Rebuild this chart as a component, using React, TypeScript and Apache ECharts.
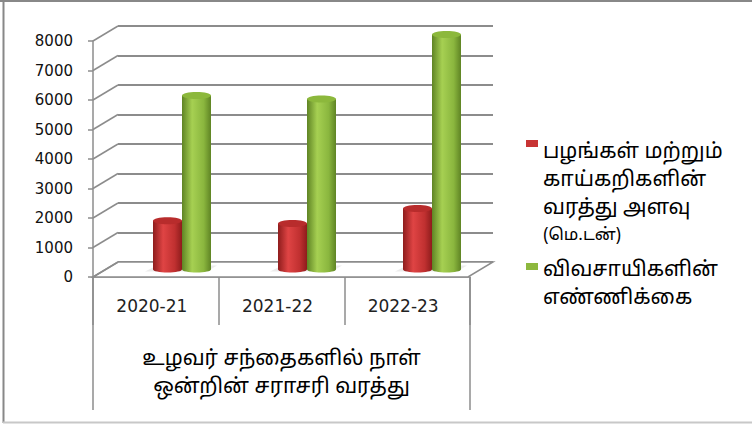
import React, { useEffect, useRef } from "react";
import * as echarts from "echarts";

const categories = ["2020-21", "2021-22", "2022-23"];
const produceArrival = [1650, 1560, 2070];
const farmerCount = [5900, 5780, 7970];
const yTicks = [0, 1000, 2000, 3000, 4000, 5000, 6000, 7000, 8000];
const legendProduceLines = ["பழங்கள் மற்றும்", "காய்கறிகளின்", "வரத்து அளவு"];
const legendProduceUnit = "(மெ.டன்)";
const legendFarmerLines = ["விவசாயிகளின்", "எண்ணிக்கை"];
const axisTitle = "உழவர் சந்தைகளில் நாள்\nஒன்றின் சராசரி வரத்து";

const GRID_GRAY = "#8c8c8c";
const DEPTH_DX = -25;
const DEPTH_DY = 15;
const BAR_W = 29;
const TAMIL_FONT = "'Noto Sans Tamil', 'Lohit Tamil', 'Latha', 'Noto Sans', sans-serif";

function cylinder(colors: { dark: string; light: string; mid: string; top: string }, side: number) {
  return (params: any, api: any) => {
    const ci = api.value(0);
    const v = api.value(1);
    const top = api.coord([ci, v]);
    const base = api.coord([ci, 0]);
    const x = side < 0 ? top[0] - BAR_W : top[0];
    const cx = x + BAR_W / 2;
    const grad = {
      type: "linear", x: 0, y: 0, x2: 1, y2: 0,
      colorStops: [
        { offset: 0, color: colors.dark },
        { offset: 0.35, color: colors.light },
        { offset: 0.75, color: colors.mid },
        { offset: 1, color: colors.dark },
      ],
    };
    const children: any[] = [];
    if (side < 0) {
      children.push({
        type: "polygon",
        shape: { points: [[x - 8, base[1] + 2], [x + 4, base[1] - 4], [x + 2 * BAR_W + 6, base[1] - 4], [x + 2 * BAR_W - 4, base[1] + 2]] },
        style: { fill: "rgba(0,0,0,0.08)" },
      });
    }
    children.push(
      { type: "ellipse", shape: { cx, cy: base[1], rx: BAR_W / 2, ry: 3 }, style: { fill: grad } },
      { type: "rect", shape: { x, y: top[1], width: BAR_W, height: base[1] - top[1] }, style: { fill: grad } },
      { type: "ellipse", shape: { cx, cy: top[1], rx: BAR_W / 2, ry: 3.5 }, style: { fill: colors.top } }
    );
    return { type: "group", children };
  };
}

export default function App() {
  const ref = useRef<HTMLDivElement>(null);
  useEffect(() => {
    if (!ref.current) return;
    const chart = echarts.init(ref.current, undefined, { renderer: "svg" });
    const legendTexts: any[] = [];
    legendProduceLines.forEach((t, i) => {
      legendTexts.push({
        type: "text", left: 543, top: 142 + i * 28,
        style: { text: t, font: `21px ${TAMIL_FONT}`, fill: "#000" },
      });
    });
    legendTexts.push({
      type: "text", left: 543, top: 227,
      style: { text: legendProduceUnit, font: `17px ${TAMIL_FONT}`, fill: "#000" },
    });
    legendFarmerLines.forEach((t, i) => {
      legendTexts.push({
        type: "text", left: 543, top: 260 + i * 28,
        style: { text: t, font: `21px ${TAMIL_FONT}`, fill: "#000" },
      });
    });

    chart.setOption({
      animation: false,
      backgroundColor: "#fff",
      grid: [
        { left: 118, top: 26, width: 375, height: 236 },
        { left: 93, top: 41, width: 377, height: 236 },
        { left: 119.5, top: 33.5, width: 375, height: 236 },
      ],
      xAxis: [
        { type: "category", gridIndex: 0, data: categories, show: false },
        {
          type: "category", gridIndex: 1, data: categories,
          axisLine: { show: true, lineStyle: { color: GRID_GRAY, width: 1.5 } },
          axisTick: { show: true, length: 48, interval: 0, alignWithLabel: false, lineStyle: { color: GRID_GRAY, width: 1.5 } },
          axisLabel: { fontSize: 17, fontFamily: "DejaVu Sans", color: "#222", margin: 20, interval: 0, padding: [0, 8, 0, 0] },
          name: axisTitle,
          nameLocation: "middle",
          nameGap: 69,
          nameTextStyle: { fontSize: 21, fontFamily: TAMIL_FONT, color: "#000", lineHeight: 28 },
        },
        { type: "category", gridIndex: 2, data: categories, show: false },
      ],
      yAxis: [
        {
          type: "value", gridIndex: 0, min: 0, max: 8000, interval: 1000,
          axisLine: { show: false }, axisTick: { show: false }, axisLabel: { show: false },
          splitLine: { show: true, lineStyle: { color: GRID_GRAY, width: 1.8 } },
        },
        {
          type: "value", gridIndex: 1, min: 0, max: 8000, interval: 1000,
          axisLine: { show: true, lineStyle: { color: GRID_GRAY, width: 1.5 } },
          axisTick: { show: true, length: 5, lineStyle: { color: GRID_GRAY, width: 1.5 } },
          axisLabel: { fontSize: 15, fontFamily: "DejaVu Sans", color: "#111", margin: 20, formatter: (v: number) => String(v) },
          splitLine: { show: false },
        },
        { type: "value", gridIndex: 2, min: 0, max: 8000, interval: 1000, show: false, splitLine: { show: false } },
      ],
      series: [
        {
          type: "custom", xAxisIndex: 0, yAxisIndex: 0, silent: true, z: 1,
          data: yTicks.map((v) => [0, v]),
          renderItem: (params: any, api: any) => {
            const v = api.value(1);
            const c = api.coord([0, v]);
            const band = api.size([1, 0])[0];
            const bx = c[0] - band / 2;
            const by = c[1];
            const children: any[] = [];
            if (v === 0) {
              const rx = bx + band * categories.length;
              children.push({
                type: "polygon",
                shape: { points: [[bx, by], [rx, by], [rx + DEPTH_DX, by + DEPTH_DY], [bx + DEPTH_DX, by + DEPTH_DY]] },
                style: { fill: "#fff", stroke: GRID_GRAY, lineWidth: 1.5 },
              });
            }
            children.push({
              type: "line",
              shape: { x1: bx, y1: by, x2: bx + DEPTH_DX, y2: by + DEPTH_DY },
              style: { stroke: GRID_GRAY, lineWidth: 1.5 },
            });
            return { type: "group", children };
          },
        },
        {
          type: "custom", name: "produce", xAxisIndex: 2, yAxisIndex: 2, z: 5,
          data: produceArrival.map((v, i) => [i, v]),
          renderItem: cylinder({ dark: "#8e1c1c", light: "#df4444", mid: "#c03030", top: "#b82c2c" }, -1),
        },
        {
          type: "custom", name: "farmers", xAxisIndex: 2, yAxisIndex: 2, z: 5,
          data: farmerCount.map((v, i) => [i, v]),
          renderItem: cylinder({ dark: "#5f8424", light: "#a6d052", mid: "#8ab63e", top: "#8cb83c" }, 1),
        },
      ],
      graphic: [
        { type: "line", shape: { x1: 93, y1: 277, x2: 93, y2: 410 }, style: { stroke: GRID_GRAY, lineWidth: 1.5 } },
        { type: "line", shape: { x1: 470, y1: 277, x2: 470, y2: 410 }, style: { stroke: GRID_GRAY, lineWidth: 1.5 } },
        { type: "line", shape: { x1: 0, y1: 1, x2: 752, y2: 1 }, style: { stroke: "#888", lineWidth: 2 } },
        { type: "line", shape: { x1: 3.5, y1: 0, x2: 3.5, y2: 423 }, style: { stroke: "#888", lineWidth: 2 } },
        { type: "line", shape: { x1: 3, y1: 422.5, x2: 752, y2: 422.5 }, style: { stroke: "#c8c8c8", lineWidth: 2 } },
        { type: "rect", shape: { x: 526, y: 140, width: 12, height: 7 }, style: { fill: "#c83434" } },
        { type: "rect", shape: { x: 526, y: 263, width: 12, height: 7 }, style: { fill: "#8db83e" } },
        ...legendTexts,
      ],
    });
    return () => chart.dispose();
  }, []);
  return <div ref={ref} style={{ position: "absolute", left: 0, top: 0, width: 752, height: 425 }} />;
}
